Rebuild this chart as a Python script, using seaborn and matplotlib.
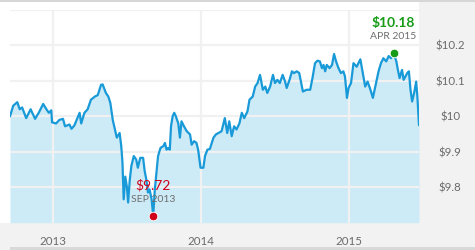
import matplotlib
matplotlib.use("Agg")
import matplotlib.pyplot as plt
import matplotlib.dates as mdates
from matplotlib.patches import Rectangle
import seaborn as sns
import pandas as pd

# ---- data ----
dates = [
    "2012-09-16", "2012-09-24", "2012-10-04", "2012-10-10", "2012-10-16", "2012-10-26",
    "2012-11-06", "2012-11-12", "2012-11-17", "2012-11-26", "2012-12-07", "2012-12-15",
    "2012-12-21", "2012-12-27", "2012-12-29", "2013-01-08", "2013-01-16", "2013-01-25",
    "2013-01-30", "2013-02-10", "2013-02-15", "2013-02-22", "2013-03-07", "2013-03-11",
    "2013-03-19", "2013-03-27", "2013-04-04", "2013-04-14", "2013-04-21", "2013-04-29",
    "2013-05-03", "2013-05-11", "2013-05-17", "2013-05-22", "2013-05-28", "2013-06-03",
    "2013-06-07", "2013-06-14", "2013-06-18", "2013-06-21", "2013-06-24", "2013-06-28",
    "2013-07-02", "2013-07-05", "2013-07-09", "2013-07-13", "2013-07-19", "2013-07-25",
    "2013-07-29", "2013-08-04", "2013-08-11", "2013-08-15", "2013-08-19", "2013-08-23",
    "2013-08-27", "2013-09-01", "2013-09-05", "2013-09-09", "2013-09-13", "2013-09-17",
    "2013-09-23", "2013-09-30", "2013-10-04", "2013-10-08", "2013-10-12", "2013-10-16",
    "2013-10-19", "2013-10-23", "2013-10-27", "2013-10-31", "2013-11-06", "2013-11-10",
    "2013-11-14", "2013-11-20", "2013-11-27", "2013-12-05", "2013-12-09", "2013-12-15",
    "2013-12-21", "2013-12-25", "2013-12-31", "2014-01-07", "2014-01-11", "2014-01-17",
    "2014-01-23", "2014-02-01", "2014-02-07", "2014-02-13", "2014-02-21", "2014-03-01",
    "2014-03-07", "2014-03-12", "2014-03-18", "2014-03-24", "2014-03-30", "2014-04-06",
    "2014-04-12", "2014-04-18", "2014-04-26", "2014-05-01", "2014-05-09", "2014-05-15",
    "2014-05-21", "2014-05-27", "2014-06-03", "2014-06-09", "2014-06-14", "2014-06-21",
    "2014-06-28", "2014-07-03", "2014-07-09", "2014-07-15", "2014-07-22", "2014-07-28",
    "2014-08-01", "2014-08-08", "2014-08-14", "2014-08-19", "2014-08-26", "2014-09-01",
    "2014-09-10", "2014-09-19", "2014-09-28", "2014-10-04", "2014-10-10", "2014-10-16",
    "2014-10-22", "2014-10-27", "2014-10-31", "2014-11-04", "2014-11-08", "2014-11-15",
    "2014-11-21", "2014-11-26", "2014-12-01", "2014-12-07", "2014-12-13", "2014-12-19",
    "2014-12-23", "2014-12-28", "2015-01-01", "2015-01-07", "2015-01-13", "2015-01-21",
    "2015-01-30", "2015-02-05", "2015-02-11", "2015-02-17", "2015-02-24", "2015-03-02",
    "2015-03-08", "2015-03-16", "2015-03-22", "2015-03-28", "2015-04-04", "2015-04-10",
    "2015-04-16", "2015-04-22", "2015-04-29", "2015-05-02", "2015-05-07", "2015-05-13",
    "2015-05-17", "2015-05-26", "2015-05-30", "2015-06-03", "2015-06-07", "2015-06-12",
    "2015-06-17", "2015-06-20", "2015-06-24",
]
prices = [
    10.00, 10.03, 10.04, 10.02, 10.025, 9.995,
    10.02, 10.005, 9.993, 10.01, 10.035, 10.02,
    10.01, 10.017, 9.983, 9.98, 9.99, 9.993,
    9.972, 9.977, 9.965, 9.974, 10.01, 9.98,
    10.01, 10.02, 10.047, 10.056, 10.06, 10.089,
    10.09, 10.066, 10.056, 10.038, 9.99, 9.96,
    9.94, 9.953, 9.916, 9.87, 9.766, 9.83,
    9.80, 9.757, 9.82, 9.86, 9.888, 9.878,
    9.855, 9.883, 9.883, 9.845, 9.822, 9.785,
    9.794, 9.766, 9.72, 9.794, 9.84, 9.888,
    9.911, 9.916, 9.925, 9.906, 9.911, 9.906,
    9.972, 10.00, 10.01, 10.00, 9.98, 9.94,
    9.986, 9.972, 9.958, 9.949, 9.92, 9.93,
    9.925, 9.906, 9.855, 9.855, 9.888, 9.906,
    9.908, 9.94, 9.949, 9.953, 9.958, 9.995,
    9.953, 9.986, 9.944, 9.972, 9.963, 9.98,
    10.01, 9.995, 10.014, 10.047, 10.056, 10.084,
    10.094, 10.117, 10.075, 10.084, 10.066, 10.084,
    10.117, 10.094, 10.103, 10.094, 10.117, 10.098,
    10.08, 10.103, 10.127, 10.122, 10.127, 10.122,
    10.07, 10.075, 10.075, 10.11, 10.15, 10.157,
    10.155, 10.136, 10.145, 10.127, 10.145, 10.136,
    10.145, 10.176, 10.155, 10.136, 10.122, 10.127,
    10.113, 10.052, 10.08, 10.094, 10.15, 10.14,
    10.161, 10.122, 10.084, 10.098, 10.075, 10.052,
    10.084, 10.127, 10.15, 10.164, 10.155, 10.17,
    10.164, 10.18, 10.155, 10.136, 10.108, 10.131,
    10.103, 10.122, 10.127, 10.075, 10.042, 10.066,
    10.098, 10.056, 9.975,
]
y_ticks = [9.8, 9.9, 10.0, 10.1, 10.2, 10.3]
y_tick_labels = ["$9.8", "$9.9", "$10", "$10.1", "$10.2", ""]
x_start, x_end = "2012-09-16", "2015-06-24"
y_min, y_max = 9.7, 10.3

df = pd.DataFrame({"date": pd.to_datetime(dates), "price": prices})

LINE = "#1899d8"
FILL = "#cdeaf7"
GRID = "#f1f1f1"
TXT = "#6b6b6b"
PANEL = "#f2f2f2"

sns.set_theme(style="white")
plt.rcParams["font.family"] = ["Lato", "DejaVu Sans"]

W, H = 475, 250
fig = plt.figure(figsize=(W / 100, H / 100), dpi=100, facecolor="white")

def px_rect(x0, y0, x1, y1, color):
    fig.add_artist(Rectangle((x0 / W, 1 - y1 / H), (x1 - x0) / W, (y1 - y0) / H,
                             transform=fig.transFigure, facecolor=color,
                             edgecolor="none", zorder=0))

px_rect(419, 0, 475, 250, PANEL)
px_rect(0, 222.7, 475, 250, PANEL)
px_rect(0, 0, 475, 2.2, "#d6d6d6")
px_rect(10, 247, 475, 250, "#d9d9d9")

ax = fig.add_axes([10 / W, 1 - 222.7 / H, (419 - 10) / W, (222.7 - 10) / H])
ax.set_facecolor("white")

ax.fill_between(df["date"], df["price"], y_min, color=FILL, linewidth=0, zorder=1)
sns.lineplot(data=df, x="date", y="price", ax=ax, color=LINE, linewidth=1.6, zorder=3)

ax.set_xlim(pd.Timestamp(x_start), pd.Timestamp(x_end))
ax.set_ylim(y_min, y_max)
ax.set_yticks(y_ticks)
ax.set_yticklabels(y_tick_labels)
ax.xaxis.set_major_locator(mdates.YearLocator())
ax.xaxis.set_major_formatter(mdates.DateFormatter("%Y"))
ax.grid(True, color=GRID, linewidth=1.6, zorder=2)
ax.set_axisbelow(False)
for ln in ax.get_xgridlines() + ax.get_ygridlines():
    ln.set_zorder(2)
for s in ax.spines.values():
    s.set_visible(False)
ax.set_xlabel("")
ax.set_ylabel("")
ax.tick_params(axis="y", left=False, labelleft=False, right=False, labelright=True,
               pad=16.5, labelsize=8.3, labelcolor=TXT)
for lab in ax.get_yticklabels():
    lab.set_horizontalalignment("center")
ax.tick_params(axis="x", bottom=False, pad=3.5, labelsize=8.3, labelcolor=TXT)

# min / max markers
imin = df["price"].idxmin()
imax = df["price"].idxmax()
for idx, col, weight in [(imin, "#d0021b", "normal"), (imax, "#169c16", "bold")]:
    d, p = df.loc[idx, "date"], df.loc[idx, "price"]
    ax.plot([d], [p], "o", color=col, markersize=6.2, markeredgecolor="white",
            markeredgewidth=0.6, zorder=5, clip_on=False)
    ax.annotate(f"${p:.2f}", (d, p), xytext=(0, 21.5), textcoords="offset points",
                ha="center", va="center", color=col, fontsize=10, fontweight=weight,
                zorder=6)
    ax.annotate(d.strftime("%b %Y").upper(), (d, p), xytext=(0, 11.5),
                textcoords="offset points", ha="center", va="center", color="#6e6e6e",
                fontsize=7.5, zorder=6)

fig.savefig("out.png", dpi=100, facecolor=fig.get_facecolor())
